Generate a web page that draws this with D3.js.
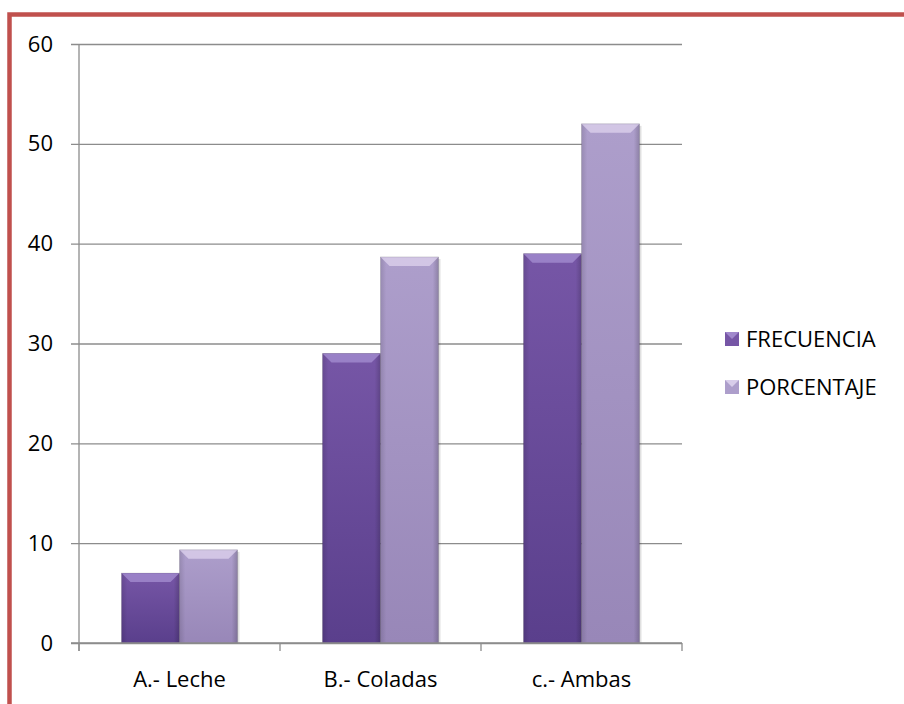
<!DOCTYPE html>
<html><head><meta charset="utf-8">
<script src="https://cdn.jsdelivr.net/npm/d3@7"></script>
<style>body{margin:0;background:#fff}svg{display:block}</style>
</head><body>
<script>
const categories = ["A.- Leche", "B.- Coladas", "c.- Ambas"];
const seriesNames = ["FRECUENCIA", "PORCENTAJE"];
const frecuencia = [7, 29, 39];
const porcentaje = [9.33, 38.67, 52];
const yTicks = [0, 10, 20, 30, 40, 50, 60];
const colors = {FRECUENCIA: ["#7656a6", "#5a3f8c", "#a088cc"], PORCENTAJE: ["#ad9ecb", "#9887b8", "#d8cdea"]};

const W = 904, H = 704;
const svg = d3.select("body").append("svg").attr("width", W).attr("height", H);
const font = "'Open Sans', sans-serif";

// border
svg.append("rect").attr("x", 9.5).attr("y", 14.5).attr("width", 920).attr("height", 720)
  .attr("fill", "none").attr("stroke", "#c0504d").attr("stroke-width", 4.5);

const x0 = 79, x1 = 682, yTop = 44, yBot = 643;
const x = d3.scaleBand().domain(categories).range([x0, x1]);
const xs = d3.scaleBand().domain(seriesNames).range([0, x.bandwidth()]).paddingInner(0).paddingOuter(0.733);
const y = d3.scaleLinear().domain([0, 60]).range([yBot, yTop]);

const defs = svg.append("defs");
seriesNames.forEach((s, i) => {
  const g = defs.append("linearGradient").attr("id", "g" + i).attr("x1", 0).attr("x2", 0).attr("y1", 0).attr("y2", 1);
  g.append("stop").attr("offset", 0).attr("stop-color", colors[s][0]);
  g.append("stop").attr("offset", 1).attr("stop-color", colors[s][1]);
  const h = defs.append("linearGradient").attr("id", "h" + i).attr("x1", 0).attr("x2", 1).attr("y1", 0).attr("y2", 0);
  h.append("stop").attr("offset", 0).attr("stop-color", "#000").attr("stop-opacity", 0.12);
  h.append("stop").attr("offset", 0.1).attr("stop-color", "#000").attr("stop-opacity", 0);
  h.append("stop").attr("offset", 0.9).attr("stop-color", "#000").attr("stop-opacity", 0);
  h.append("stop").attr("offset", 1).attr("stop-color", "#000").attr("stop-opacity", 0.18);
});

// gridlines
const yAxis = d3.axisLeft(y).tickValues(yTicks).tickSize(-(x1 - x0)).tickPadding(0).tickFormat(d3.format("d"));
const ga = svg.append("g").attr("transform", `translate(${x0},0)`).call(yAxis);
ga.select(".domain").remove();
ga.selectAll(".tick line").attr("x1", -8).attr("stroke", "#8c8c8c").attr("stroke-width", 1.3);
ga.selectAll(".tick text").attr("x", -26).attr("font-family", font).attr("font-size", 22).attr("fill", "#000");
svg.append("line").attr("x1", x0).attr("x2", x0).attr("y1", yTop).attr("y2", yBot + 8).attr("stroke", "#8c8c8c").attr("stroke-width", 1.3);

// bars
const data = categories.map((c, i) => ({c, vals: [frecuencia[i], porcentaje[i]]}));
const bev = 9;
data.forEach(d => {
  d.vals.forEach((v, i) => {
    const s = seriesNames[i];
    const bx = x(d.c) + xs(s), bw = xs.bandwidth(), by = y(v), bh = yBot - y(v);
    const g = svg.append("g");
    g.append("rect").attr("x", bx + 2).attr("y", by + 2).attr("width", bw).attr("height", bh - 2).attr("fill", "#000").attr("opacity", 0.12);
    g.append("rect").attr("x", bx).attr("y", by).attr("width", bw).attr("height", bh).attr("fill", `url(#g${i})`);
    g.append("rect").attr("x", bx).attr("y", by).attr("width", bw).attr("height", bh).attr("fill", `url(#h${i})`);
    const b = Math.min(bev, bh / 2);
    g.append("path").attr("d", `M${bx},${by}L${bx + bw},${by}L${bx + bw - b},${by + b}L${bx + b},${by + b}Z`).attr("fill", colors[s][2]).attr("opacity", 0.85);
    g.append("rect").attr("x", bx).attr("y", by).attr("width", bw).attr("height", bh).attr("fill", "none").attr("stroke", "#000").attr("stroke-opacity", 0.15).attr("stroke-width", 0.8);
  });
});

// x axis
const xAxis = d3.axisBottom(x).tickSize(0).tickPadding(0);
const gx = svg.append("g").attr("transform", `translate(0,${yBot})`).call(xAxis);
gx.select(".domain").remove();
gx.selectAll(".tick text").attr("y", 36).attr("dy", "0.35em").attr("font-family", font).attr("font-size", 22).attr("fill", "#000");
[x0, ...categories.map(c => x(c) + x.bandwidth())].forEach(px => {
  svg.append("line").attr("x1", px).attr("x2", px).attr("y1", yBot).attr("y2", yBot + 8).attr("stroke", "#8c8c8c").attr("stroke-width", 1.3);
});
svg.append("line").attr("x1", x0 - 8).attr("x2", x1).attr("y1", yBot).attr("y2", yBot).attr("stroke", "#8c8c8c").attr("stroke-width", 1.3);

// legend
const leg = svg.append("g");
seriesNames.forEach((s, i) => {
  const ly = 339 + i * 48;
  leg.append("rect").attr("x", 725).attr("y", ly - 7).attr("width", 14).attr("height", 14).attr("fill", colors[s][0]);
  leg.append("path").attr("d", `M725,${ly - 7}L739,${ly - 7}L732,${ly}Z`).attr("fill", colors[s][2]);
  leg.append("text").attr("x", 746).attr("y", ly).attr("dy", "0.35em").attr("font-family", font).attr("font-size", 22).text(s);
});
</script>
</body></html>
